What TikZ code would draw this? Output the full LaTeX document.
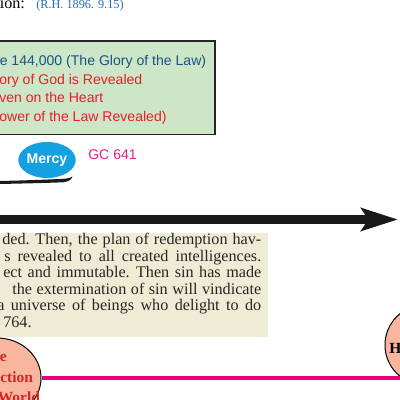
\documentclass[tikz,border=0pt]{standalone}
\usepackage{fontspec}
\setmainfont{Liberation Serif}
\setsansfont{Liberation Sans}
\usepackage{xcolor}
\usetikzlibrary{arrows.meta,calc,positioning,shapes.geometric}

\definecolor{lawgreen}{RGB}{205,230,200}
\definecolor{lawblue}{RGB}{25,85,130}
\definecolor{lawred}{RGB}{232,30,40}
\definecolor{mercyblue}{RGB}{20,160,225}
\definecolor{gcpink}{RGB}{230,30,140}
\definecolor{quotebg}{RGB}{238,236,213}
\definecolor{salmon}{RGB}{248,182,158}
\definecolor{worldred}{RGB}{215,35,35}
\definecolor{timeline}{RGB}{230,0,125}
\definecolor{refblue}{RGB}{40,110,180}

% one px of the picture
\newlength\pxu \setlength\pxu{0.025cm}
\newcommand{\jline}[2]{\hbox to #1\pxu{\spaceskip=0.25em plus 1fill\xspaceskip=0.3em plus 1fill\relax #2}}

\begin{document}
\begin{tikzpicture}[x=0.025cm,y=-0.025cm,
  boxline/.style={anchor=base west,inner sep=0pt,font=\sffamily\fontsize{10}{12}\selectfont},
  quoteline/.style={anchor=base west,inner sep=0pt,font=\fontsize{11.5}{13}\selectfont,text=black!85},
  worldtxt/.style={anchor=base west,inner sep=0pt,font=\bfseries\fontsize{11}{13}\selectfont,text=worldred},
  bigarrow/.style={line width=6.4pt,-{Stealth[length=26pt,width=16pt,inset=5pt]}},
  eventball/.style={draw,line width=0.7pt,fill=salmon,inner sep=0pt}]
\useasboundingbox (0,0) rectangle (400,400);
\clip (0,0) rectangle (400,400);
\fill[white] (0,0) rectangle (400,400);
% heading
\node[anchor=base west,inner sep=0pt,font=\fontsize{11.5}{13}\selectfont] (hdr) at (-0.5,8.5) {ion:};
\node[anchor=base west,inner sep=0pt,font=\fontsize{8.7}{10}\selectfont,text=refblue] (ref) at (36,8.5) {(R.H. 1896. 9.15)};
% the green box
\draw[fill=lawgreen,line width=1.4pt,draw=black!85] (-5,41) rectangle (215,134.5);
\node[boxline,text=lawblue] (g1) at (-0.5,66) {e 144,000 (The Glory of the Law)};
\node[boxline,text=lawred] (g2) at (-1,84.5) {ory of God is Revealed};
\node[boxline,text=lawred] (g3) at (-1,103) {ven on the Heart};
\node[boxline,text=lawred] (g4) at (-1,121.5) {ower of the Law Revealed)};
% mercy
\node[ellipse,fill=mercyblue,minimum width=1.32cm,minimum height=0.9cm,inner sep=0pt,
      text=white,font=\sffamily\bfseries\fontsize{10}{12}\selectfont] (mercy) at (47,160) {Mercy};
\node[anchor=base west,inner sep=0pt,text=gcpink,font=\sffamily\fontsize{10}{12}\selectfont] (gc) at (88,159) {GC 641};
\fill[black!90] (-2,181) .. controls (20,180.6) and (50,179.6) .. (66,178.6)
  .. controls (69,178.2) and (71,177.4) .. (72.5,176.5)
  .. controls (71.5,179.5) and (69,181.6) .. (63,182.3)
  .. controls (45,183) and (20,183.6) .. (-2,184) -- cycle;
% time arrow
\coordinate (tstart) at (-5,219.5);
\coordinate (tend) at (398,219.5);
\draw[bigarrow,black!90] (tstart) -- (tend);
% quotation
\fill[quotebg] (-5,233) rectangle (268,337);
\node[quoteline] (q1) at (2,244.5) {\jline{259}{ded. Then, the plan of redemption hav-}};
\node[quoteline] (q2) at (4,261.1) {\jline{257}{s revealed to all created intelligences.}};
\node[quoteline] (q3) at (3,277.7) {\jline{258}{ect and immutable. Then sin has made}};
\node[quoteline] (q4) at (12,294.3) {\jline{249}{the extermination of sin will vindicate}};
\node[quoteline] (q5) at (-3,310.9) {\jline{264}{a universe of beings who delight to do}};
\node[quoteline] (q6) at (3,327.5) {764.};
% bottom time line
\node[eventball,ellipse,minimum width=2.2cm,minimum height=2cm] (world) at (-3,378) {};
\node[worldtxt] (w1) at (-0.5,361) {e};
\node[worldtxt] (w2) at (0,382) {ction};
\node[worldtxt] (w3) at (-2.5,402) {World};
\node[eventball,circle,minimum size=2cm] (hball) at (425,345) {};
\node[anchor=base west,inner sep=0pt,font=\bfseries\fontsize{11}{13}\selectfont] (h) at (389,353) {H};
\coordinate (lineend) at (405,378);
\draw[timeline,line width=2.8pt] (world.east) -- (lineend);
\end{tikzpicture}
\end{document}
